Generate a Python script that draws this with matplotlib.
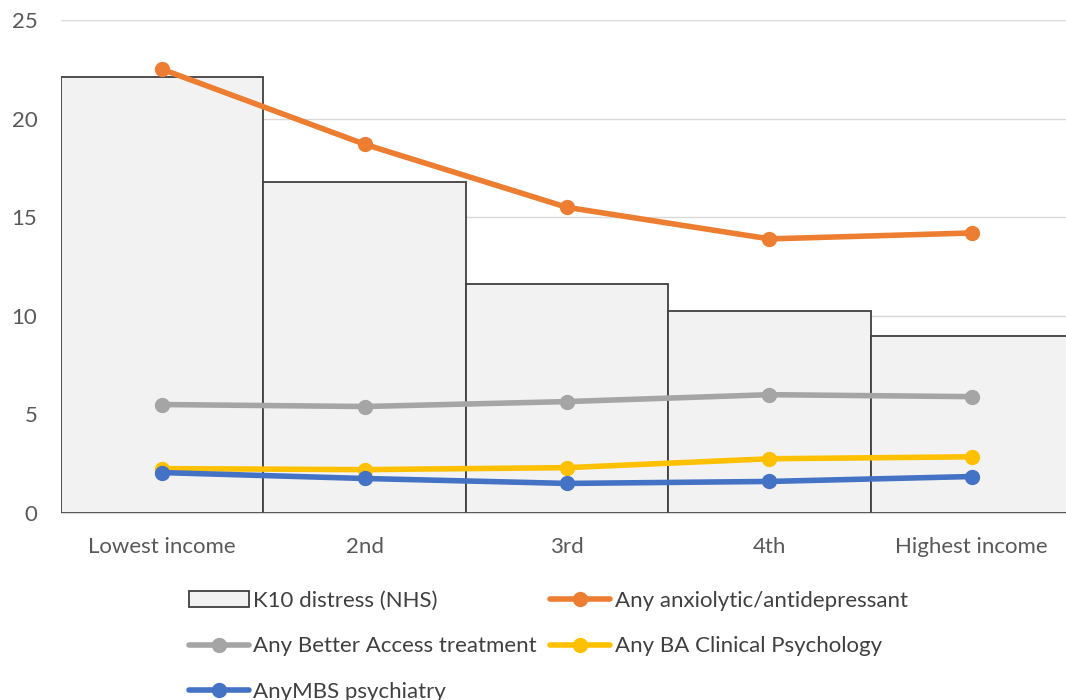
import matplotlib.pyplot as plt
import numpy as np

plt.rcParams['font.family'] = ['Lato', 'DejaVu Sans']

categories = ['Lowest income', '2nd', '3rd', '4th', 'Highest income']
k10_distress = [22.1, 16.8, 11.6, 10.25, 9.0]
anxiolytic = [22.5, 18.7, 15.5, 13.9, 14.2]
better_access = [5.5, 5.4, 5.65, 6.0, 5.9]
ba_clin_psych = [2.25, 2.2, 2.3, 2.75, 2.85]
mbs_psychiatry = [2.05, 1.75, 1.5, 1.6, 1.85]

fig = plt.figure(figsize=(10.66, 7), dpi=100)
ax = fig.add_axes([61 / 1066, 1 - 513 / 700, 1012 / 1066, 493 / 700])

x = np.arange(len(categories))
bars = ax.bar(x, k10_distress, width=1.0, color='#F2F2F2', edgecolor='#404040',
              linewidth=1.3, zorder=2, label='K10 distress (NHS)')

line_kw = dict(linewidth=4.0, marker='o', markersize=10, zorder=3,
               solid_capstyle='round')
l1, = ax.plot(x, anxiolytic, color='#ED7D31', label='Any anxiolytic/antidepressant', **line_kw)
l2, = ax.plot(x, better_access, color='#A5A5A5', label='Any Better Access treatment', **line_kw)
l3, = ax.plot(x, ba_clin_psych, color='#FFC000', label='Any BA Clinical Psychology', **line_kw)
l4, = ax.plot(x, mbs_psychiatry, color='#4472C4', label='AnyMBS psychiatry', **line_kw)

ax.set_xlim(-0.5, 4.5)
ax.set_ylim(0, 25)
ax.set_yticks([0, 5, 10, 15, 20, 25])
ax.set_xticks(x)
ax.set_xticklabels(categories)
ax.yaxis.grid(True, color='#D9D9D9', linewidth=1.0, zorder=0)
ax.set_axisbelow(True)
for s in ['top', 'right', 'left']:
    ax.spines[s].set_visible(False)
ax.spines['bottom'].set_color('#D9D9D9')
ax.tick_params(length=0, labelsize=16, labelcolor='#595959')
ax.tick_params(axis='x', pad=17)
ax.tick_params(axis='y', pad=17)

# legend rows: K10 | orange / gray | yellow / blue
handles = [bars, l2, l4, l1, l3]
fig.legend(handles=handles, labels=[h.get_label() for h in handles],
           ncol=2, loc='upper left', bbox_to_anchor=(180 / 1066, 1 - 582 / 700),
           frameon=False, fontsize=16, labelcolor='#404040',
           handlelength=2.7, handletextpad=0.2, columnspacing=0.6,
           labelspacing=1.15, borderaxespad=0)

fig.savefig('out.png', dpi=100)
